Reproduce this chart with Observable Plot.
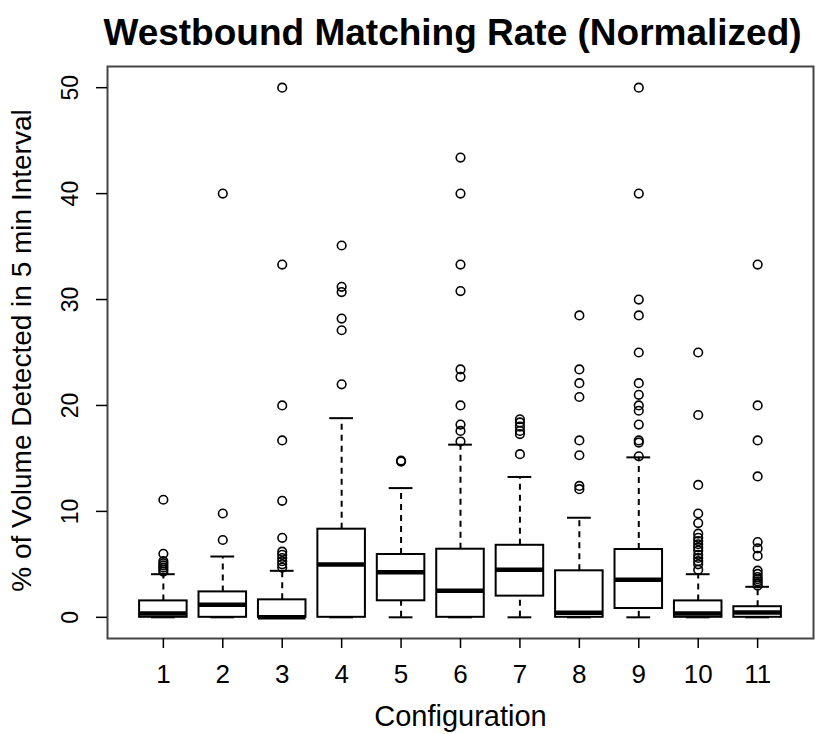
<!DOCTYPE html>
<html>
<head>
<meta charset="utf-8">
<script src="https://cdn.jsdelivr.net/npm/d3@7"></script>
<script src="https://cdn.jsdelivr.net/npm/@observablehq/plot@0.6"></script>
<style>
  html, body { margin: 0; padding: 0; background: #fff; }
  #chart { width: 820px; height: 734px; }
</style>
</head>
<body>
<div id="chart"></div>
<script>
const titleText = "Westbound Matching Rate (Normalized)";
const xLabel = "Configuration";
const yLabel = "% of Volume Detected in 5 min Interval";

const configs = [1, 2, 3, 4, 5, 6, 7, 8, 9, 10, 11];
const yTicks = [0, 10, 20, 30, 40, 50];

// box statistics
const q1     = [0,    0,    0,    0,    1.56, 0,    2.0,  0,    0.83, 0,    0];
const median = [0.36, 1.18, 0.0,  4.98, 4.26, 2.5,  4.5,  0.42, 3.54, 0.35, 0.45];
const q3     = [1.55, 2.4,  1.65, 8.32, 5.93, 6.43, 6.8,  4.39, 6.4,  1.55, 1.0];
const whiskerLo = [0, 0, 0, 0, 0, 0, 0, 0, 0, 0, 0];
const whiskerHi = [4.07, 5.74, 4.39, 18.8, 12.2, 16.3, 13.25, 9.4, 15.1, 4.07, 2.88];

// outliers per configuration
const outliers1  = [4.3, 4.5, 4.7, 4.9, 5.1, 5.3, 6.0, 11.1];
const outliers2  = [7.3, 9.8, 40.0];
const outliers3  = [4.7, 5.0, 5.3, 5.6, 5.9, 6.2, 7.5, 11.0, 16.7, 20.0, 33.3, 50.0];
const outliers4  = [22.0, 27.1, 28.2, 30.7, 31.2, 35.1];
const outliers5  = [14.7, 14.8];
const outliers6  = [16.6, 17.6, 18.2, 20.0, 22.7, 23.4, 30.8, 33.3, 40.0, 43.4];
const outliers7  = [15.4, 17.3, 17.6, 18.0, 18.4, 18.7];
const outliers8  = [12.1, 12.4, 15.3, 16.7, 20.8, 22.1, 23.4, 28.5];
const outliers9  = [15.2, 16.5, 16.7, 18.2, 19.5, 20.0, 21.0, 22.1, 25.0, 28.5, 30.0, 40.0, 50.0];
const outliers10 = [4.5, 5.0, 5.3, 5.6, 5.9, 6.3, 6.6, 6.9, 7.2, 7.5, 7.9, 8.9, 9.8, 12.5, 19.1, 25.0];
const outliers11 = [3.0, 3.2, 3.4, 3.6, 3.8, 4.1, 4.4, 5.8, 6.5, 7.1, 13.3, 16.7, 20.0, 33.3];
const outlierLists = [outliers1, outliers2, outliers3, outliers4, outliers5, outliers6,
                      outliers7, outliers8, outliers9, outliers10, outliers11];

const boxes = configs.map((c, i) => ({
  config: c, q1: q1[i], med: median[i], q3: q3[i], lo: whiskerLo[i], hi: whiskerHi[i]
}));
const outlierData = configs.flatMap((c, i) => outlierLists[i].map(v => ({config: c, value: v})));

const font = "'Liberation Sans', Arial, Helvetica, sans-serif";
const boxHalf = 0.4, stapleHalf = 0.2;

const chart = Plot.plot({
  width: 820,
  height: 734,
  marginTop: 66,
  marginBottom: 96,
  marginLeft: 107,
  marginRight: 7,
  style: {fontFamily: font, background: "#fff", color: "#000", overflow: "visible"},
  x: {domain: [0.06, 11.94]},
  y: {domain: [-2, 52]},
  marks: [
    // whiskers
    Plot.ruleX(boxes, {x: "config", y1: "q3", y2: "hi", stroke: "#000", strokeWidth: 2, strokeDasharray: "6,5"}),
    Plot.ruleX(boxes, {x: "config", y1: "lo", y2: "q1", stroke: "#000", strokeWidth: 2, strokeDasharray: "6,5"}),
    // staples
    Plot.ruleY(boxes, {y: "hi", x1: d => d.config - stapleHalf, x2: d => d.config + stapleHalf, stroke: "#000", strokeWidth: 2}),
    Plot.ruleY(boxes, {y: "lo", x1: d => d.config - stapleHalf, x2: d => d.config + stapleHalf, stroke: "#000", strokeWidth: 2}),
    // boxes
    Plot.rect(boxes, {x1: d => d.config - boxHalf, x2: d => d.config + boxHalf, y1: "q1", y2: "q3", fill: "#fff", stroke: "#000", strokeWidth: 2}),
    // medians
    Plot.ruleY(boxes, {y: "med", x1: d => d.config - boxHalf, x2: d => d.config + boxHalf, stroke: "#000", strokeWidth: 4.5}),
    // outliers
    Plot.dot(outlierData, {x: "config", y: "value", r: 4.3, fill: "none", stroke: "#000", strokeWidth: 1.6}),
    Plot.frame({stroke: "#444", strokeWidth: 2}),
    // axes
    Plot.axisX({ticks: configs, tickSize: 10, tickPadding: 16, fontSize: 26, label: null, tickFormat: d => String(d), stroke: "#000", strokeWidth: 1.5}),
    Plot.axisY({ticks: yTicks, tickSize: 11, label: null, tickFormat: () => "", stroke: "#000", strokeWidth: 1.5}),
    Plot.text(yTicks, {y: d => d, frameAnchor: "left", text: d => String(d), rotate: -90, dx: -37, fontSize: 23, textAnchor: "middle", lineAnchor: "middle", fill: "#000"}),
    // titles
    Plot.text([xLabel], {text: d => d, frameAnchor: "bottom", dy: 78, fontSize: 29, textAnchor: "middle", lineAnchor: "middle", fill: "#000"}),
    Plot.text([yLabel], {text: d => d, frameAnchor: "left", rotate: -90, dx: -85, dy: -2, fontSize: 28, textAnchor: "middle", lineAnchor: "middle", fill: "#000"}),
    Plot.text([titleText], {text: d => d, frameAnchor: "top", dy: -33, dx: -8, fontSize: 37, fontWeight: "bold", textAnchor: "middle", lineAnchor: "middle", fill: "#000"})
  ]
});
document.getElementById("chart").appendChild(chart);
</script>
</body>
</html>
